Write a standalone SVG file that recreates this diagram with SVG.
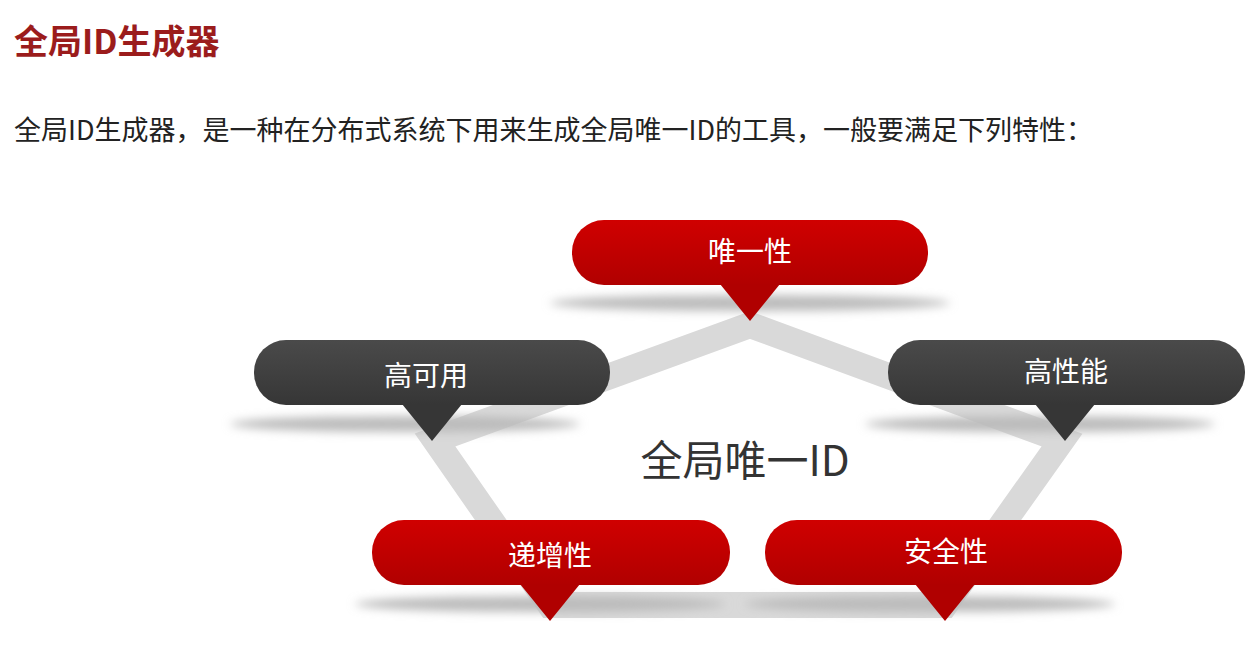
<svg xmlns="http://www.w3.org/2000/svg" width="1260" height="672" viewBox="0 0 1260 672">
<defs>
<filter id="blur" x="-20%" y="-200%" width="140%" height="500%"><feGaussianBlur stdDeviation="5"/></filter>
<linearGradient id="red" x1="0" y1="0" x2="0" y2="1"><stop offset="0" stop-color="#d00000"/><stop offset="1" stop-color="#b00000"/></linearGradient>
<linearGradient id="dark" x1="0" y1="0" x2="0" y2="1"><stop offset="0" stop-color="#4a4a4a"/><stop offset="1" stop-color="#363636"/></linearGradient>
</defs>
<style>
.t{font-family:"Noto Sans CJK SC","Liberation Sans",sans-serif}
.lbl{font-size:28px;fill:#fff;text-anchor:middle}
.sh{fill:#bbb;filter:url(#blur)}
</style>
<rect width="1260" height="672" fill="#fff"/>
<text class="t" x="14" y="54" font-size="34" font-weight="bold" fill="#9b1c1c">全局ID生成器</text>
<text class="t" x="14" y="140" font-size="27" fill="#222">全局ID生成器，是一种在分布式系统下用来生成全局唯一ID的工具，一般要满足下列特性：</text>
<g id="connectors" stroke="#d9d9d9" stroke-width="26" fill="none" stroke-linejoin="miter">
<polygon points="750,325 1062,440 945,605 550,605 435,440"/>
</g>
<text class="t" x="745" y="476" font-size="42" fill="#333" text-anchor="middle">全局唯一ID</text>
<g id="n1"><ellipse class="sh" cx="750" cy="303" rx="200" ry="8"/><rect x="572" y="220" width="356" height="65" rx="32" fill="url(#red)"/><polygon points="720,284 780,284 750,321" fill="#b00000"/><text class="t lbl" x="750" y="262">唯一性</text></g>
<g id="n2"><ellipse class="sh" cx="405" cy="424" rx="175" ry="8"/><rect x="254" y="340" width="356" height="65" rx="32" fill="url(#dark)"/><polygon points="402,404 462,404 432,441" fill="#363636"/><text class="t lbl" x="426" y="386">高可用</text></g>
<g id="n3"><ellipse class="sh" cx="1040" cy="424" rx="175" ry="8"/><rect x="888" y="340" width="357" height="65" rx="32" fill="url(#dark)"/><polygon points="1035,404 1095,404 1065,441" fill="#363636"/><text class="t lbl" x="1066" y="382">高性能</text></g>
<g id="n4"><ellipse class="sh" cx="540" cy="604" rx="185" ry="8"/><rect x="372" y="520" width="358" height="65" rx="32" fill="url(#red)"/><polygon points="520,584 580,584 550,621" fill="#b00000"/><text class="t lbl" x="550" y="566">递增性</text></g>
<g id="n5"><ellipse class="sh" cx="930" cy="604" rx="185" ry="8"/><rect x="765" y="520" width="357" height="65" rx="32" fill="url(#red)"/><polygon points="915,584 975,584 945,621" fill="#b00000"/><text class="t lbl" x="946" y="562">安全性</text></g>
</svg>
